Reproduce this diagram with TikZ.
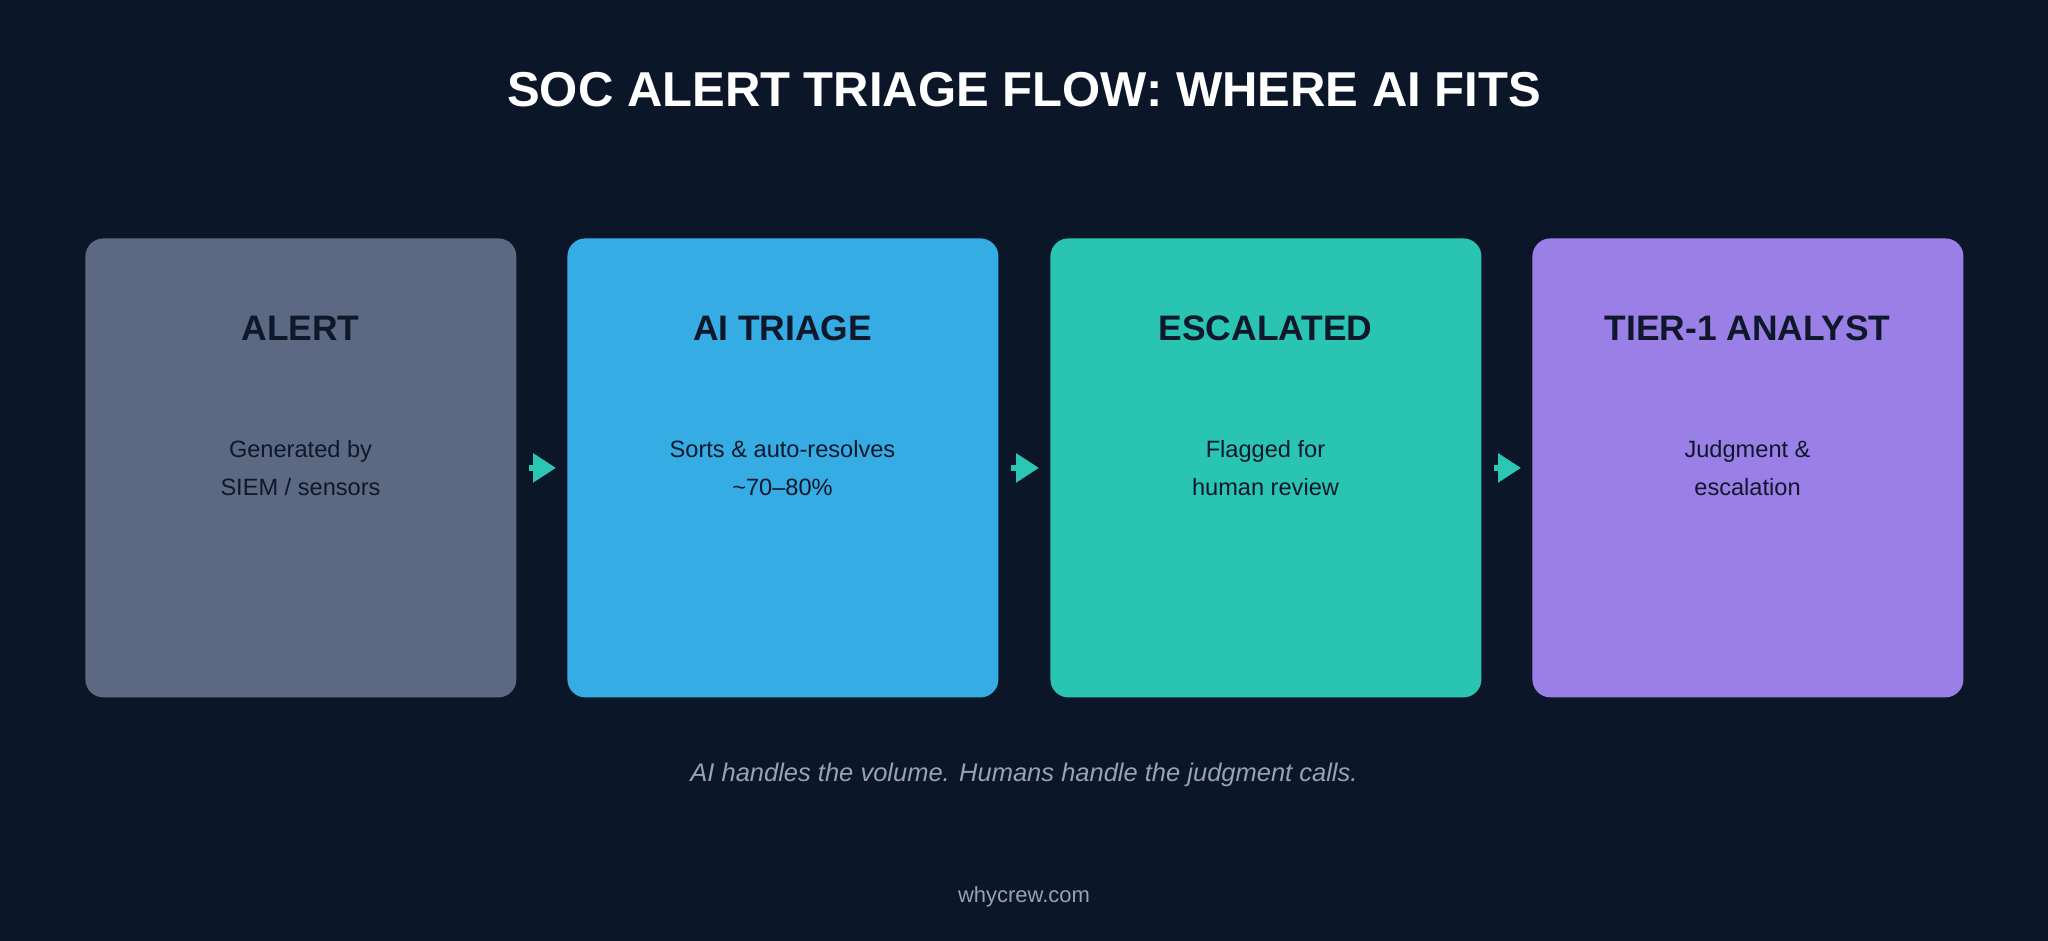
\documentclass[tikz,border=0pt]{standalone}
\usepackage{fontspec}
\setmainfont{Liberation Sans}
\usetikzlibrary{arrows.meta}

\definecolor{bg}{HTML}{0B1628}
\definecolor{ink}{HTML}{0F172A}
\definecolor{muted}{HTML}{94A3B8}
\definecolor{slate}{HTML}{5B6A82}
\definecolor{sky}{HTML}{35ADE4}
\definecolor{sea}{HTML}{2AC4B3}
\definecolor{lilac}{HTML}{9A80E6}
\definecolor{cyan}{HTML}{2BC6B4}

\begin{document}
\begin{tikzpicture}[x=0.5pt, y=-0.5pt,
  stage/.style={rounded corners=9pt, minimum width=215.5pt, minimum height=229.5pt, inner sep=0pt, anchor=north west},
  head/.style={anchor=base, text=ink, font=\fontsize{17.7}{21}\selectfont\bfseries},
  body/.style={anchor=base, text=ink, font=\fontsize{11.8}{14}\selectfont},
  flow/.style={-{Triangle[length=11.5pt,width=14pt]}, line width=3pt, draw=cyan, fill=cyan, shorten <=6pt, shorten >=5.5pt}]

\fill[bg] (0,0) rectangle (2048,941);

\node[anchor=base, text=white, font=\fontsize{24.5}{29}\selectfont\bfseries] (title) at (1024,107) {SOC ALERT TRIAGE FLOW: WHERE AI FITS};

% the four stages
\foreach \n/\x/\c/\t/\a/\b in {alert/85/slate/ALERT/Generated by/{SIEM / sensors},
  triage/567/sky/AI TRIAGE/Sorts \& auto-resolves/{\textasciitilde 70–80\%},
  escalated/1050/sea/ESCALATED/Flagged for/human review,
  analyst/1532/lilac/TIER-1 ANALYST/Judgment \&/escalation}{
\node[stage, fill=\c] (\n) at (\x,238) {};
\node[head] (\n-head) at (\x+215.5,340) {\t};
\node[body] (\n-one) at (\x+215.5,457) {\a};
\node[body] (\n-two) at (\x+215.5,495) {\b};
}

\draw[flow] (alert) -- (triage);
\draw[flow] (triage) -- (escalated);
\draw[flow] (escalated) -- (analyst);

\node[anchor=base, text=muted, font=\fontsize{12.75}{15}\selectfont\itshape] (note) at (1024,781) {AI handles the volume. Humans handle the judgment calls.};
\node[anchor=base, text=muted, font=\fontsize{11}{13}\selectfont] (site) at (1024,902) {whycrew.com};
\end{tikzpicture}
\end{document}
